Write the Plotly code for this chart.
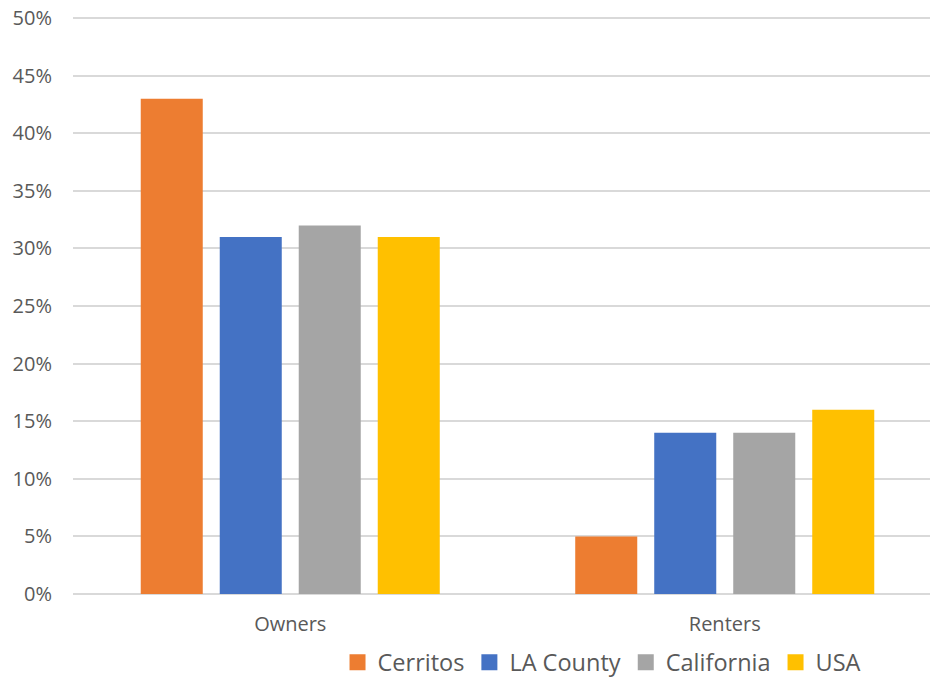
import plotly.graph_objects as go

categories = ["Owners", "Renters"]
series_names = ["Cerritos", "LA County", "California", "USA"]
cerritos = [0.43, 0.05]
la_county = [0.31, 0.14]
california = [0.32, 0.14]
usa = [0.31, 0.16]
colors = ["#ED7D31", "#4472C4", "#A5A5A5", "#FFC000"]
y_ticks = [0, 0.05, 0.10, 0.15, 0.20, 0.25, 0.30, 0.35, 0.40, 0.45, 0.50]

fig = go.Figure()
for name, vals, col in zip(series_names, [cerritos, la_county, california, usa], colors):
    fig.add_trace(go.Bar(x=categories, y=vals, name=name, marker_color=col,
                         marker_line_width=0, showlegend=False, legendgroup=name))
# legend entries with larger square swatches
for name, col in zip(series_names, colors):
    fig.add_trace(go.Scatter(x=[None], y=[None], mode="markers", name=name,
                             marker=dict(symbol="square", size=16, color=col),
                             legendgroup=name, showlegend=True))

W, H = 930, 679
fig.update_layout(
    width=W, height=H,
    margin=dict(l=73, r=0, t=17, b=85, autoexpand=False),
    paper_bgcolor="white", plot_bgcolor="white",
    barmode="group", bargap=0.2727, bargroupgap=0.215,
    font=dict(family="Open Sans", color="#595959"),
    legend=dict(orientation="h", x=0.6173, xanchor="center", y=-0.1185, yanchor="middle",
                font=dict(size=23.5, color="#595959"), traceorder="normal",
                itemsizing="trace", bgcolor="rgba(0,0,0,0)"),
    showlegend=True,
)
fig.update_xaxes(range=[-0.5, 1.4724], showgrid=False, zeroline=False, showline=False,
                 tickfont=dict(size=20, color="#595959"), ticks="", ticklabelstandoff=16)
fig.update_yaxes(range=[0, 0.501], tickvals=y_ticks, tickformat=".0%",
                 showgrid=True, gridcolor="#D9D9D9", gridwidth=1.5,
                 zeroline=True, zerolinecolor="#D9D9D9", zerolinewidth=1.5,
                 showline=False, ticks="", ticklabelstandoff=20,
                 tickfont=dict(size=20, color="#595959"))
fig.write_html("out.html", config={"displayModeBar": False},
               post_script="document.body.style.margin='0';document.body.style.overflow='hidden';")
